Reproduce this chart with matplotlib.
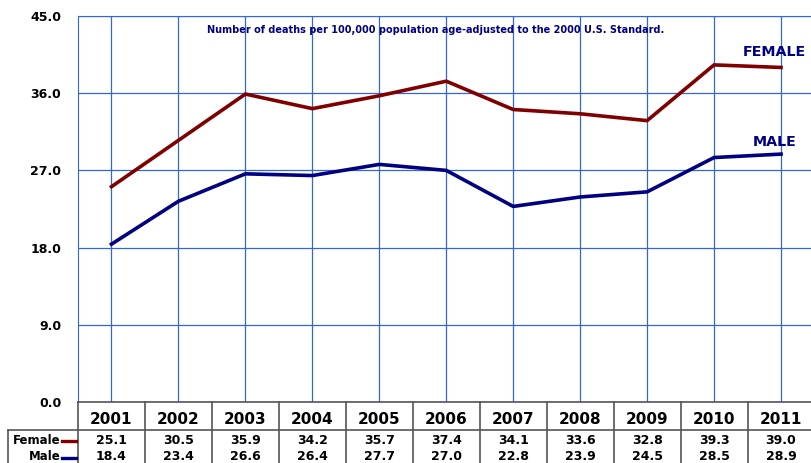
import matplotlib
matplotlib.use("Agg")
import matplotlib.pyplot as plt
import matplotlib.transforms as mtransforms
from matplotlib.lines import Line2D

# Data
years = ["2001", "2002", "2003", "2004", "2005", "2006",
         "2007", "2008", "2009", "2010", "2011"]
female = [25.1, 30.5, 35.9, 34.2, 35.7, 37.4, 34.1, 33.6, 32.8, 39.3, 39.0]
male = [18.4, 23.4, 26.6, 26.4, 27.7, 27.0, 22.8, 23.9, 24.5, 28.5, 28.9]
yticks = [0, 9, 18, 27, 36, 45]

red = "#800000"
navy = "#000080"
grid_blue = "#3366d6"

W, H = 812, 463
fig = plt.figure(figsize=(W / 100, H / 100), dpi=100)
fig.patch.set_facecolor("white")

# axes in pixel terms (right edge is cropped by the figure)
left_px, right_px, top_px, bot_px = 78, 814.5, 16, 402
ax = fig.add_axes([left_px / W, 1 - bot_px / H,
                   (right_px - left_px) / W, (bot_px - top_px) / H])

x = list(range(len(years)))
ax.plot(x, female, color=red, lw=2.6, solid_joinstyle="round", zorder=3)
ax.plot(x, male, color=navy, lw=2.6, solid_joinstyle="round", zorder=3)

ax.set_xlim(-0.5, len(years) - 0.5)
ax.set_ylim(0, 45)
ax.set_yticks(yticks)
ax.set_yticklabels([f"{v:.1f}" for v in yticks], fontsize=9, fontweight="bold")
ax.set_xticks(x)
ax.set_xticklabels([])
ax.tick_params(axis="y", length=0, pad=12)
ax.tick_params(axis="x", length=0)
ax.grid(True, color=grid_blue, lw=0.9)
for s in ["top", "left", "right"]:
    ax.spines[s].set_color(grid_blue)
ax.spines["bottom"].set_color("#555555")
ax.spines["bottom"].set_linewidth(1.2)

fig.text(436 / W, 1 - 30 / H,
         "Number of deaths per 100,000 population age-adjusted to the 2000 U.S. Standard.",
         ha="center", va="center", fontsize=7, fontweight="bold", color=navy)
ax.text(9.43, 40.8, "FEMALE", fontsize=10.3, fontweight="bold",
        color=navy, ha="left", va="center")
ax.text(9.58, 30.3, "MALE", fontsize=10.3, fontweight="bold",
        color=navy, ha="left", va="center")

# data table below the axes
tr = mtransforms.blended_transform_factory(ax.transData, fig.transFigure)

def fy(py):
    return 1 - py / H

line_kw = dict(color="#555555", lw=1.2, clip_on=False)
for k in range(len(years) + 1):
    fig.add_artist(Line2D([k - 0.5, k - 0.5], [fy(402), fy(463)], transform=tr, **line_kw))
fig.add_artist(Line2D([8 / W, 1], [fy(430), fy(430)], transform=fig.transFigure, **line_kw))
fig.add_artist(Line2D([8 / W, 8 / W], [fy(430), fy(463)], transform=fig.transFigure, **line_kw))

for i, yr in enumerate(years):
    fig.text(i, fy(420), yr, transform=tr, ha="center", va="center",
             fontsize=11, fontweight="bold")
    fig.text(i, fy(440), f"{female[i]:.1f}", transform=tr, ha="center",
             va="center", fontsize=9, fontweight="bold")
    fig.text(i, fy(457), f"{male[i]:.1f}", transform=tr, ha="center",
             va="center", fontsize=9, fontweight="bold")

for label, col, py in [("Female", red, 440), ("Male", navy, 457)]:
    fig.text(61 / W, fy(py), label, ha="right", va="center", fontsize=8.5,
             fontweight="bold")
    fig.add_artist(Line2D([62 / W, 76 / W], [fy(py + 1), fy(py + 1)],
                          transform=fig.transFigure, color=col, lw=2.4))

fig.savefig("out.png", dpi=100)
